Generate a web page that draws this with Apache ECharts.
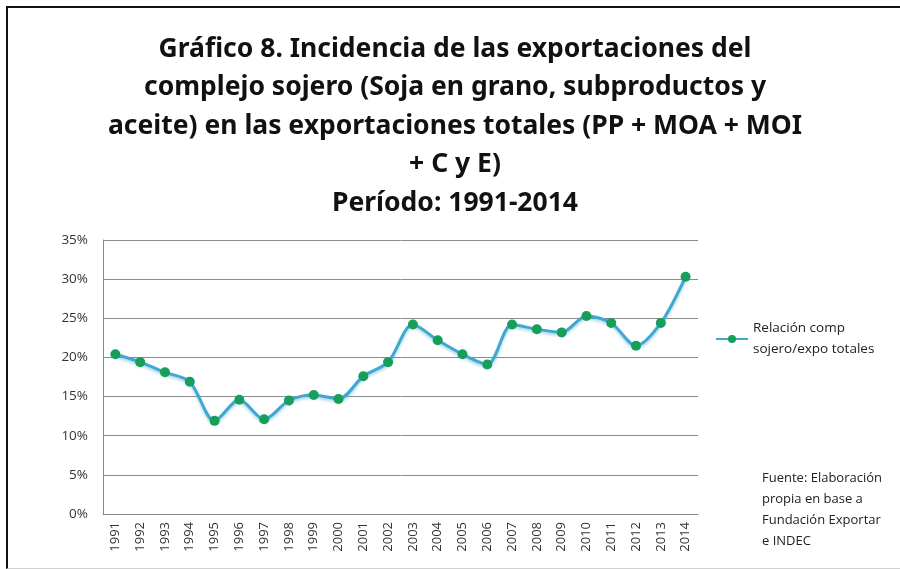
<!DOCTYPE html>
<html>
<head>
<meta charset="utf-8">
<script src="https://cdn.jsdelivr.net/npm/echarts@6/dist/echarts.min.js"></script>
<style>
html, body { margin: 0; padding: 0; background: #fff; }
.frame {
    position: absolute; left: 6px; top: 6px; width: 900px; height: 560px;
    border-left: 2px solid #111; border-top: 2px solid #111; border-bottom: 1px solid #d0d0d0;
    pointer-events: none;
}
#chart { position: absolute; left: 0; top: 0; width: 900px; height: 569px; }
</style>
</head>
<body>
<div id="chart"></div>
<div class="frame"></div>
<script>
// años y relación complejo sojero / exportaciones totales (%)
const years = ['1991', '1992', '1993', '1994', '1995', '1996', '1997', '1998', '1999', '2000', '2001', '2002',
    '2003', '2004', '2005', '2006', '2007', '2008', '2009', '2010', '2011', '2012', '2013', '2014']
const relacion = [20.4, 19.4, 18.1, 16.9, 11.9, 14.6, 12.1, 14.5, 15.2, 14.7, 17.6, 19.4,
    24.2, 22.2, 20.4, 19.1, 24.2, 23.6, 23.2, 25.3, 24.4, 21.5, 24.4, 30.3]
const serieName = 'Relación comp\nsojero/expo totales'
const fuente = 'Fuente: Elaboración\npropia en base a\nFundación Exportar\ne INDEC'

const chartInstance = echarts.init(document.getElementById('chart'))

const option = {
    backgroundColor: '#fff',
    animation: false,
    textStyle: { fontFamily: 'Open Sans' },
    title: {
        text: 'Gráfico 8. Incidencia de las exportaciones del\ncomplejo sojero (Soja en grano, subproductos y\naceite) en las exportaciones totales (PP + MOA + MOI\n+ C y E)\nPeríodo: 1991-2014',
        left: 450,
        top: 25,
        textAlign: 'center',
        textStyle: {
            fontFamily: 'Noto Sans',
            fontWeight: 'bold',
            fontSize: 26.5,
            lineHeight: 38.5,
            color: '#111'
        }
    },
    grid: {
        left: 103,
        right: 202,
        top: 240,
        bottom: 55
    },
    legend: {
        left: 710,
        top: 313,
        itemWidth: 32,
        itemHeight: 10,
        itemGap: 4,
        textStyle: { fontSize: 13.5, color: '#222', lineHeight: 21 },
        data: [serieName]
    },
    xAxis: {
        type: 'category',
        data: years,
        boundaryGap: true,
        axisLine: { lineStyle: { color: '#888' } },
        axisTick: { show: false },
        axisLabel: { rotate: 90, interval: 0, fontSize: 13, color: '#333', margin: 8 }
    },
    yAxis: {
        type: 'value',
        min: 0,
        max: 35,
        interval: 5,
        axisLine: { show: true, lineStyle: { color: '#888' } },
        axisTick: { show: false },
        axisLabel: { formatter: '{value}%', fontSize: 13.5, color: '#333', margin: 15 },
        splitLine: { lineStyle: { color: '#8c8c8c', width: 1 } }
    },
    series: [
        {
            name: serieName,
            type: 'line',
            data: relacion,
            smooth: 0.3,
            symbol: 'circle',
            symbolSize: 10,
            lineStyle: {
                color: '#3fa7d2',
                width: 3,
                shadowColor: 'rgba(60,160,200,0.45)',
                shadowBlur: 3,
                shadowOffsetY: 2
            },
            itemStyle: { color: '#179e5b' }
        }
    ],
    graphic: [
        {
            type: 'text',
            left: 762,
            top: 468,
            style: {
                text: fuente,
                fontFamily: 'Open Sans',
                fontSize: 13,
                lineHeight: 21,
                fill: '#222'
            }
        }
    ]
}
chartInstance.setOption(option)
</script>
</body>
</html>
